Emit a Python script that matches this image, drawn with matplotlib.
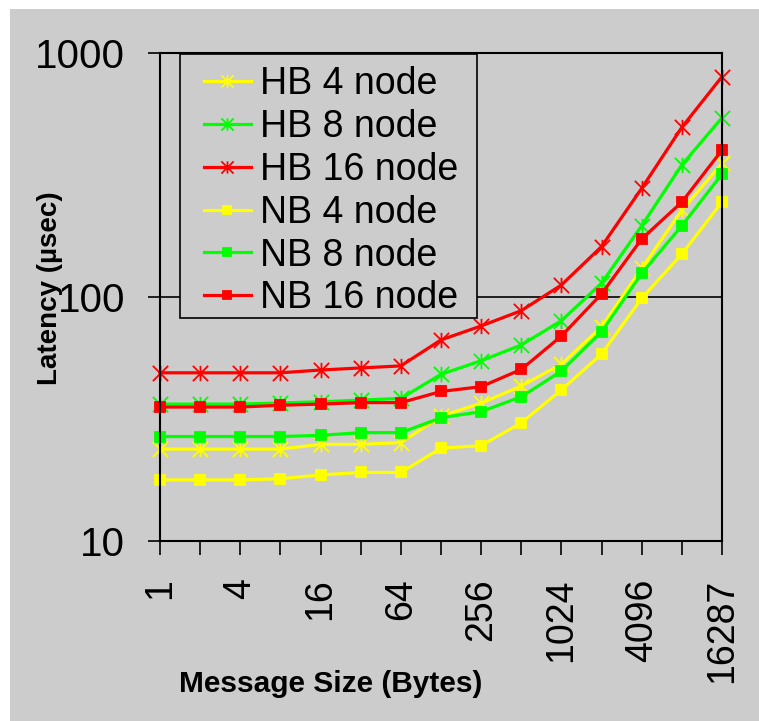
import matplotlib
matplotlib.use("Agg")
from matplotlib import pyplot as plt
from matplotlib.path import Path
from matplotlib.patches import Rectangle

plt.rcParams['font.family'] = ['Liberation Sans', 'DejaVu Sans']

sizes = ['1', '2', '4', '8', '16', '32', '64', '128', '256', '512',
         '1024', '2048', '4096', '8192', '16287']
shown = ['1', '4', '16', '64', '256', '1024', '4096', '16287']

hb4 = [23.8, 23.8, 23.8, 23.8, 24.9, 24.9, 25.3, 32.5, 36.7, 43.2, 53.0, 75.6, 131, 227, 353]
hb8 = [36.4, 36.4, 36.4, 36.8, 37.2, 37.8, 38.4, 48.2, 54.8, 63.6, 80.0, 114, 196, 348, 543]
hb16 = [48.9, 48.9, 48.9, 48.9, 50.2, 51.2, 52.2, 66.7, 76.1, 87.9, 112, 161, 279, 496, 800]
nb4 = [17.8, 17.8, 17.8, 18.0, 18.65, 19.1, 19.1, 24.0, 24.6, 30.5, 41.6, 58.4, 98.8, 150, 245]
nb8 = [26.8, 26.8, 26.8, 26.8, 27.1, 27.8, 27.8, 32.0, 33.9, 39.0, 49.7, 72.1, 125, 196, 319]
nb16 = [35.4, 35.4, 35.4, 36.0, 36.4, 36.9, 36.9, 41.0, 42.9, 50.5, 69.2, 103, 173, 245, 400]

# excel style star: an X with a vertical bar
star = Path([(-1, -1), (1, 1), (-1, 1), (1, -1), (0, -1), (0, 1)],
            [Path.MOVETO, Path.LINETO] * 3)

W, H = 759, 721
fig = plt.figure(figsize=(W / 100, H / 100), dpi=100)
fig.patch.set_facecolor('white')
fig.patches.append(Rectangle((10 / W, 0), 1, 1 - 9 / H, transform=fig.transFigure,
                             facecolor='#cccccc', edgecolor='none', zorder=-10))

ax = fig.add_axes([160 / W, 1 - 541 / H, (722 - 160) / W, (541 - 53) / H])
ax.set_facecolor('#cccccc')

x = list(range(len(sizes)))
series = [
    (hb4, 'yellow', star, 11, 'HB 4 node'),
    (hb8, '#00ff00', star, 11, 'HB 8 node'),
    (hb16, 'red', star, 11, 'HB 16 node'),
    (nb4, 'yellow', 's', 6.5, 'NB 4 node'),
    (nb8, '#00ff00', 's', 6.5, 'NB 8 node'),
    (nb16, 'red', 's', 6.5, 'NB 16 node'),
]
for ys, c, m, ms, lab in series:
    ax.plot(x, ys, color=c, lw=2.3, marker=m, ms=ms, mec=c, mfc=c, mew=1.3,
            label=lab, clip_on=False)

ax.set_yscale('log')
ax.set_ylim(10, 1000)
ax.set_xlim(0, len(sizes) - 1)
ax.set_yticks([10, 100, 1000])
ax.set_yticklabels(['10', '100', '1000'])
ax.minorticks_off()
ax.set_xticks(x)
ax.set_xticklabels([s if s in shown else '' for s in sizes], rotation=90)
ax.tick_params(axis='y', direction='out', length=9, width=1.2, pad=16, labelsize=29)
ax.tick_params(axis='x', direction='out', length=10, width=1.2, pad=17, labelsize=27)
ax.yaxis.grid(True, color='black', lw=1.2)
ax.set_axisbelow(True)
for sp in ax.spines.values():
    sp.set_color('black')
    sp.set_linewidth(1.5)

fig.text(50 / W, 1 - 288 / H, 'Latency (µsec)', rotation=90, ha='center',
         va='center', fontsize=20, fontweight='bold')
fig.text(331 / W, 1 - 684 / H, 'Message Size (Bytes)', ha='center',
         va='center', fontsize=21.5, fontweight='bold')

# legend box drawn separately so its padding matches the excel one
box = Rectangle((180 / W, 1 - 318 / H), (477 - 180) / W, (318 - 54) / H,
                transform=fig.transFigure, facecolor='#cccccc', edgecolor='black',
                lw=1.2, zorder=4.9, clip_on=False)
ax.add_patch(box)
leg = ax.legend(loc='upper left', bbox_to_anchor=(204 / W, 1 - 66.5 / H),
                bbox_transform=fig.transFigure, fontsize=27, frameon=False,
                borderaxespad=0, borderpad=0, labelspacing=0.18,
                handlelength=1.25, handletextpad=0.25, markerscale=0.8)
leg.set_zorder(5)

fig.savefig('out.png', dpi=100, facecolor=fig.get_facecolor())
